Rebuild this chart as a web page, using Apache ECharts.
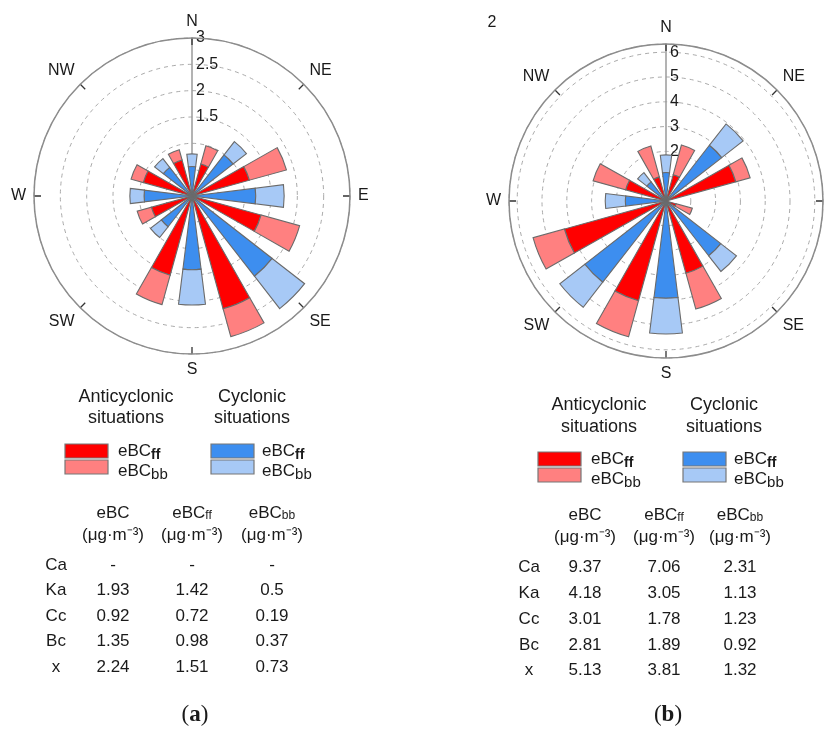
<!DOCTYPE html>
<html><head><meta charset="utf-8">
<script src="https://cdn.jsdelivr.net/npm/echarts@6/dist/echarts.min.js"></script>
<style>html,body{margin:0;padding:0;background:#fff}#c{width:832px;height:729px}</style>
</head><body><div id="c"></div>
<script>
// ---------- data ----------
const directions = ['N','NNE','NE','ENE','E','ESE','SE','SSE','S','SSW','SW','WSW','W','WNW','NW','NNW'];
const anticyclonicDirs = ['NNE','ENE','ESE','SSE','SSW','WSW','WNW','NNW'];
const cyclonicDirs = ['N','NE','E','SE','S','SW','W','NW'];

// panel (a)
const aAnticycFF = [0.63, 1.13, 1.36, 2.22, 1.56, 0.80, 0.96, 0.71];
const aAnticycBB = [0.36, 0.73, 0.76, 0.55, 0.58, 0.28, 0.24, 0.20];
const aCycFF     = [0.56, 0.99, 1.21, 1.93, 1.40, 0.74, 0.91, 0.69];
const aCycBB     = [0.24, 0.32, 0.54, 0.78, 0.67, 0.26, 0.27, 0.21];
// panel (b)
const bAnticycFF = [1.10, 2.92, 0.42, 3.02, 4.17, 4.25, 1.69, 1.01];
const bAnticycBB = [1.24, 0.60, 0.68, 1.50, 1.51, 1.31, 1.36, 1.29];
const bCycFF     = [1.15, 2.85, null, 2.80, 3.92, 4.15, 1.64, 0.98];
const bCycBB     = [0.71, 1.09, null, 0.80, 1.44, 1.28, 0.81, 0.47];

const aRadiusMax = 3,    aRadiusStep = 0.5, aFirstLabel = 1.5;
const bRadiusMax = 6.33, bRadiusStep = 1,   bFirstLabel = 2;

// tables
const tableRows = ['Ca','Ka','Cc','Bc','x'];
const aTabEBC = [null, 1.93, 0.92, 1.35, 2.24];
const aTabFF  = [null, 1.42, 0.72, 0.98, 1.51];
const aTabBB  = [null, 0.5, 0.19, 0.37, 0.73];
const bTabEBC = [9.37, 4.18, 3.01, 2.81, 5.13];
const bTabFF  = [7.06, 3.05, 1.78, 1.89, 3.81];
const bTabBB  = [2.31, 1.13, 1.23, 0.92, 1.32];

// ---------- styling ----------
const FONT = '"Liberation Sans", Arial, sans-serif';
const SERIF = '"Liberation Serif", "DejaVu Serif", serif';
const TXT = '#1a1a1a';
const RED_FF = '#FF0000', RED_BB = '#FF8080', BLUE_FF = '#3D8EEF', BLUE_BB = '#A7C9F6';
const BORDER = '#6a6a6a';

function spread(dirs, vals) {
  return directions.map(d => {
    const i = dirs.indexOf(d);
    return (i < 0 || vals[i] == null) ? '-' : vals[i];
  });
}

const panels = [
  {cx:192, cy:196, r:158, max:aRadiusMax, step:aRadiusStep, first:aFirstLabel,
   aFF:aAnticycFF, aBB:aAnticycBB, cFF:aCycFF, cBB:aCycBB},
  {cx:666, cy:201, r:157, max:bRadiusMax, step:bRadiusStep, first:bFirstLabel,
   aFF:bAnticycFF, aBB:bAnticycBB, cFF:bCycFF, cBB:bCycBB}
];

const polar = [], angleAxis = [], radiusAxis = [], series = [];
panels.forEach((p, k) => {
  const gi = 2 * k, bi = 2 * k + 1;
  polar.push({center:[p.cx, p.cy], radius:p.r});
  polar.push({center:[p.cx, p.cy], radius:p.r});
  // grid polar (radial axis pointing north, dashed rings)
  angleAxis.push({polarIndex:gi, type:'value', min:0, max:360, startAngle:90, show:false});
  radiusAxis.push({
    polarIndex:gi, type:'value', min:0, max:p.max, interval:p.step, z:0,
    axisLine:{show:true, lineStyle:{color:'#9a9a9a', width:1.5}},
    axisTick:{show:false},
    axisLabel:{
      formatter: v => (v >= p.first - 1e-9 && Math.abs(v / p.step - Math.round(v / p.step)) < 1e-6) ? String(+v.toFixed(2)) : '',
      align:'left', margin:-4, color:TXT, fontSize:16, fontFamily:FONT
    },
    splitLine:{show:true, lineStyle:{type:[4,4], color:'#aaaaaa', width:1}}
  });
  // bar polar (16 sectors)
  angleAxis.push({
    polarIndex:bi, type:'category', data:directions, startAngle:101.25, z:3,
    axisLine:{show:true, lineStyle:{color:'#8c8c8c', width:1.5}},
    axisTick:{show:true, inside:true, length:7, alignWithLabel:true, interval:1, lineStyle:{color:'#333', width:1.3}},
    axisLabel:{interval:1, margin:8, color:TXT, fontSize:16, fontFamily:FONT},
    splitLine:{show:false}
  });
  radiusAxis.push({polarIndex:bi, type:'value', min:0, max:p.max, show:false});
  const mk = (name, data, color) => ({
    type:'bar', name, coordinateSystem:'polar', polarIndex:bi, stack:'s' + k,
    barWidth:'63%', data,
    itemStyle:{color, borderColor:BORDER, borderWidth:1.1},
    emphasis:{disabled:true}
  });
  series.push(mk('Anticyclonic eBCff', spread(anticyclonicDirs, p.aFF), RED_FF));
  series.push(mk('Anticyclonic eBCbb', spread(anticyclonicDirs, p.aBB), RED_BB));
  series.push(mk('Cyclonic eBCff', spread(cyclonicDirs, p.cFF), BLUE_FF));
  series.push(mk('Cyclonic eBCbb', spread(cyclonicDirs, p.cBB), BLUE_BB));
});

// ---------- graphic: legends, tables, captions ----------
const graphic = [];
function text(x, y, s, size, align, extra) {
  graphic.push({type:'text', x, y, silent:true, style:Object.assign({
    text:s, fill:TXT, font:size + 'px ' + FONT, align:align || 'center', verticalAlign:'middle'
  }, extra || {})});
}
function subText(x, y, main, sub, size, subSize, pad, align, bold) {
  graphic.push({type:'text', x, y, silent:true, style:{
    text:'{m|' + main + '}{s|' + sub + '}', align:align || 'center', verticalAlign:'middle',
    rich:{
      m:{fontSize:size, fontFamily:FONT, fill:TXT, color:TXT},
      s:{fontSize:subSize, fontFamily:FONT, fill:TXT, color:TXT, fontWeight:bold ? 'bold' : 'normal', padding:[pad,0,0,0]}
    }
  }});
}
function rect(x, y, w, h, color) {
  graphic.push({type:'rect', silent:true, shape:{x, y, width:w, height:h},
    style:{fill:color, stroke:'#777', lineWidth:1.2}});
}

const legendLayouts = [
  {antiX:126, cycX:252, y1:397, y2:418, rX:65, bX:211, boxW:43, r1:444, r2:460, boxH:14, tX:118, btX:262, t1:451, t2:471},
  {antiX:599, cycX:724, y1:405, y2:427, rX:538, bX:683, boxW:43, r1:452, r2:468, boxH:14, tX:591, btX:734, t1:459, t2:479}
];
legendLayouts.forEach(L => {
  text(L.antiX, L.y1, 'Anticyclonic', 18);
  text(L.antiX, L.y2, 'situations', 18);
  text(L.cycX, L.y1, 'Cyclonic', 18);
  text(L.cycX, L.y2, 'situations', 18);
  rect(L.rX, L.r1, L.boxW, L.boxH, RED_FF);
  rect(L.rX, L.r2, L.boxW, L.boxH, RED_BB);
  rect(L.bX, L.r1, L.boxW, L.boxH, BLUE_FF);
  rect(L.bX, L.r2, L.boxW, L.boxH, BLUE_BB);
  subText(L.tX, L.t1, 'eBC', 'ff', 17, 14, 8, 'left', true);
  subText(L.tX, L.t2, 'eBC', 'bb', 17, 15, 8, 'left', false);
  subText(L.btX, L.t1, 'eBC', 'ff', 17, 14, 8, 'left', true);
  subText(L.btX, L.t2, 'eBC', 'bb', 17, 15, 8, 'left', false);
});

const fmt = v => v == null ? '-' : String(v);
const tableLayouts = [
  {labelX:56, cols:[113,192,272], h1:513, h2:535, rowY:[565,590,616,641,667], vals:[aTabEBC,aTabFF,aTabBB]},
  {labelX:529, cols:[585,664,740], h1:515, h2:537, rowY:[567,593,619,645,670], vals:[bTabEBC,bTabFF,bTabBB]}
];
tableLayouts.forEach(T => {
  text(T.cols[0], T.h1, 'eBC', 17);
  subText(T.cols[1], T.h1, 'eBC', 'ff', 17, 12, 6, 'center', false);
  subText(T.cols[2], T.h1, 'eBC', 'bb', 17, 12, 6, 'center', false);
  T.cols.forEach(cx => text(cx, T.h2, '(μg·m⁻³)', 17));
  tableRows.forEach((r, i) => {
    text(T.labelX, T.rowY[i], r, 17);
    T.vals.forEach((col, j) => text(T.cols[j], T.rowY[i], fmt(col[i]), 17));
  });
});

// captions
[[195, '(', 'a', ')'], [668, '(', 'b', ')']].forEach(c => {
  graphic.push({type:'text', x:c[0], y:715, silent:true, style:{
    text:'{n|' + c[1] + '}{b|' + c[2] + '}{n|' + c[3] + '}', align:'center', verticalAlign:'middle',
    rich:{n:{fontSize:23, fontFamily:SERIF, fill:TXT, color:TXT}, b:{fontSize:23, fontFamily:SERIF, fontWeight:'bold', fill:TXT, color:TXT}}
  }});
});
// stray panel mark in (b)
text(492, 23, '2', 16);

const chart = echarts.init(document.getElementById('c'), null, {renderer:'canvas'});
chart.setOption({
  animation:false,
  backgroundColor:'#fff',
  polar, angleAxis, radiusAxis, series, graphic,
  tooltip:{show:false}
});
</script></body></html>
